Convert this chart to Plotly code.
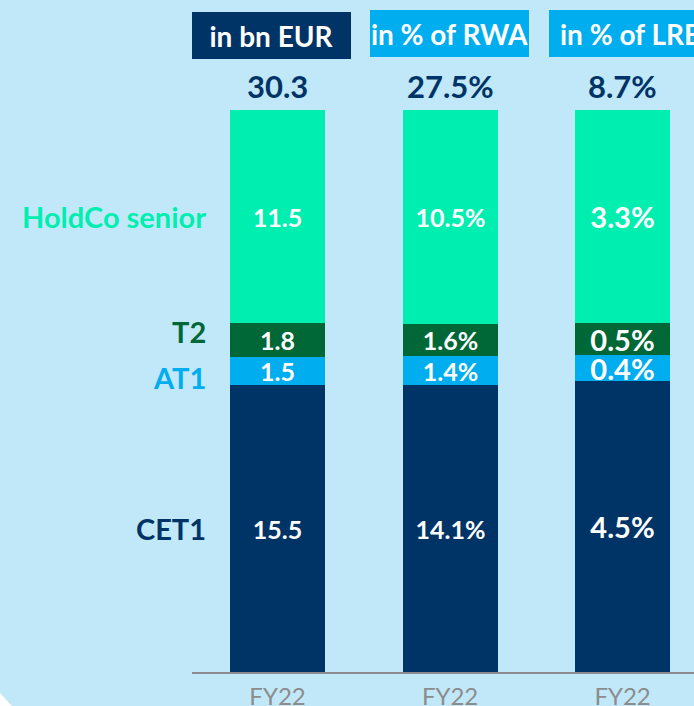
import plotly.graph_objects as go

# Loss-absorbing capacity, FY22, shown three ways
columns = ["FY22", "FY22", "FY22"]
units = ["in bn EUR", "in % of RWA", "in % of LRE"]
suffix = ["", "%", "%"]
totals = [30.3, 27.5, 8.7]

layers = ["CET1", "AT1", "T2", "HoldCo senior"]
cet1 = [15.5, 14.1, 4.5]
at1 = [1.5, 1.4, 0.4]
t2 = [1.8, 1.6, 0.5]
holdco = [11.5, 10.5, 3.3]

BG = "#c1e8f9"
NAVY = "#003366"
MINT = "#00efb0"
GREEN = "#006837"
SKY = "#00adef"
GREY = "#8c8c8c"
FONT = "Lato"

layer_values = [cet1, at1, t2, holdco]
layer_colors = [NAVY, SKY, GREEN, MINT]
label_sizes = [25, 25, 29]
header_colors = [NAVY, SKY, SKY]

fig = go.Figure()

# each column has its own y scale so every stack fills the same height
for i in range(len(columns)):
    yname = "y" if i == 0 else f"y{i + 1}"
    for name, vals, col in zip(layers, layer_values, layer_colors):
        fig.add_trace(go.Bar(
            x=[i], y=[vals[i]], name=name, yaxis=yname,
            marker=dict(color=col, line=dict(width=0)),
            width=0.55,
            text=[f"{vals[i]:.1f}{suffix[i]}"],
            textposition="inside", insidetextanchor="middle",
            textangle=0, constraintext="none",
            textfont=dict(family=FONT, size=label_sizes[i], color="white", weight="bold"),
            hoverinfo="skip", showlegend=False,
        ))

stack_sums = [sum(v[i] for v in layer_values) for i in range(len(columns))]

annotations = []
# totals above each stack
for i, tot in enumerate(totals):
    annotations.append(dict(
        x=i, xref="x", y=1, yref="paper", yanchor="middle", yshift=24,
        text=f"{tot:.1f}{suffix[i]}", showarrow=False,
        font=dict(family=FONT, size=31, color=NAVY, weight="bold"),
    ))

# unit headers
header_shift = [-6, -1, 7]
header_yshift = [75, 77, 77]
header_width = [159, 159, 162]
for i, u in enumerate(units):
    annotations.append(dict(
        x=i, xref="x", xshift=header_shift[i],
        y=1, yref="paper", yanchor="middle", yshift=header_yshift[i],
        text=u, showarrow=False, bgcolor=header_colors[i],
        width=header_width[i], height=47, borderpad=0, borderwidth=0,
        font=dict(family=FONT, size=28, color="white", weight="bold"),
    ))

# layer names to the left of the first stack
cum = 0
mids = []
for vals in layer_values:
    mids.append(cum + vals[0] / 2)
    cum += vals[0]
name_shift = [0, -7, 8, 0]
for name, mid, col, dy in zip(layers, mids, layer_colors, name_shift):
    annotations.append(dict(
        x=0, xref="x", xshift=-70, xanchor="right",
        y=mid, yref="y", yanchor="middle", yshift=dy,
        text=name, showarrow=False,
        font=dict(family=FONT, size=29, color=col, weight="bold"),
    ))

layout_axes = {}
for i, s in enumerate(stack_sums):
    key = "yaxis" if i == 0 else f"yaxis{i + 1}"
    ax = dict(range=[0, s], visible=False, fixedrange=True)
    if i > 0:
        ax["overlaying"] = "y"
    layout_axes[key] = ax

fig.update_layout(
    width=694, height=706,
    margin=dict(l=192, r=0, t=110, b=34),
    paper_bgcolor=BG, plot_bgcolor=BG,
    barmode="stack", bargap=0,
    xaxis=dict(
        range=[-0.496, 2.414], tickvals=list(range(len(columns))), ticktext=columns,
        showgrid=False, zeroline=False, showline=True, linecolor=GREY, linewidth=2,
        ticks="", ticklabelstandoff=2, automargin=False,
        tickfont=dict(family=FONT, size=24, color=GREY),
    ),
    annotations=annotations,
    shapes=[dict(
        type="path", xref="paper", yref="paper",
        path="M -0.3825 -0.0374 L -0.3586 -0.0605 L -0.3825 -0.0605 Z",
        fillcolor="white", line=dict(width=0), layer="above",
    )],
    **layout_axes,
)

fig.write_html("out.html")
